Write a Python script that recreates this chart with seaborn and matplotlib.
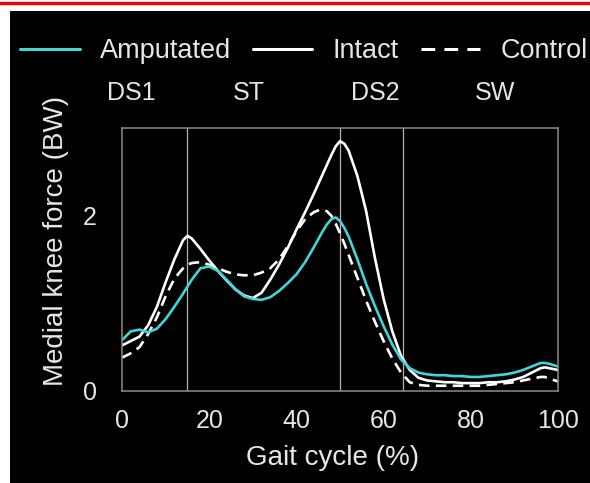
import numpy as np
import pandas as pd
import matplotlib
matplotlib.use("Agg")
import matplotlib.pyplot as plt
from matplotlib.lines import Line2D
from matplotlib.patches import Rectangle
import seaborn as sns

# Gait cycle positions (%) and medial knee contact force (body weights)
gait_pct = [0, 2, 4, 6, 8, 10, 12, 14, 15, 16, 18, 20, 22, 24, 26, 28, 30, 32, 34, 36,
            38, 40, 42, 44, 45, 46, 47, 48, 49, 50, 51, 52, 54, 56, 58, 60, 62, 64, 66, 68,
            70, 72, 74, 76, 78, 80, 82, 84, 86, 88, 90, 92, 94, 96, 97, 98, 100]

amputated = [0.58, 0.68, 0.70, 0.67, 0.71, 0.82, 0.96, 1.11, 1.19, 1.27, 1.40, 1.42, 1.37, 1.27,
             1.16, 1.08, 1.05, 1.04, 1.07, 1.14, 1.23, 1.33, 1.47, 1.64, 1.73, 1.82, 1.90, 1.96,
             1.98, 1.94, 1.86, 1.76, 1.50, 1.22, 0.97, 0.74, 0.53, 0.36, 0.26, 0.21, 0.19, 0.18,
             0.18, 0.17, 0.17, 0.16, 0.16, 0.17, 0.18, 0.19, 0.21, 0.24, 0.28, 0.32, 0.32, 0.31,
             0.28]

intact = [0.52, 0.57, 0.62, 0.75, 0.96, 1.24, 1.50, 1.72, 1.77, 1.74, 1.62, 1.49, 1.37, 1.26,
          1.16, 1.09, 1.06, 1.12, 1.27, 1.44, 1.63, 1.84, 2.04, 2.25, 2.36, 2.47, 2.58, 2.69,
          2.79, 2.85, 2.82, 2.74, 2.45, 2.05, 1.52, 1.05, 0.68, 0.40, 0.24, 0.15, 0.12, 0.11,
          0.10, 0.10, 0.09, 0.09, 0.09, 0.10, 0.10, 0.11, 0.13, 0.16, 0.21, 0.26, 0.27, 0.26,
          0.24]

control = [0.38, 0.43, 0.50, 0.65, 0.84, 1.08, 1.28, 1.40, 1.44, 1.46, 1.47, 1.44, 1.40, 1.36,
           1.33, 1.32, 1.32, 1.35, 1.40, 1.50, 1.65, 1.82, 1.96, 2.04, 2.06, 2.07, 2.05, 2.00,
           1.91, 1.80, 1.68, 1.55, 1.29, 1.03, 0.79, 0.57, 0.37, 0.21, 0.10, 0.07, 0.06, 0.06,
           0.06, 0.06, 0.06, 0.06, 0.06, 0.07, 0.08, 0.09, 0.10, 0.12, 0.14, 0.16, 0.16, 0.14,
           0.11]

groups = ["Amputated", "Intact", "Control"]

# Phase boundaries (% gait) and phase names with their label positions
phase_bounds = [15, 50, 64.5]
phase_names = ["DS1", "ST", "DS2", "SW"]
phase_label_x = [2.2, 29.0, 58.0, 85.5]

x_ticks = [0, 20, 40, 60, 80, 100]
y_ticks = [0, 2]

df = pd.concat([
    pd.DataFrame({"gait": gait_pct, "force": vals, "limb": name})
    for name, vals in zip(groups, [amputated, intact, control])
], ignore_index=True)

sns.set_theme(style="dark")
FONT = ["Liberation Sans", "DejaVu Sans"]
plt.rcParams["font.family"] = FONT

TXT = "#e6e6e6"
GRID = "#8c8c8c"
CYAN = "#3fd6d6"

fig = plt.figure(figsize=(5.9, 4.83), dpi=100, facecolor="white")
# black panel and red rule along the top
fig.patches.append(Rectangle((10 / 590, 0), 580 / 590, 472 / 483,
                             transform=fig.transFigure, facecolor="black",
                             edgecolor="none", zorder=-5))
fig.lines.append(Line2D([0, 1], [1 - 2.5 / 483] * 2, transform=fig.transFigure,
                        color="#ee0000", lw=2.4))

ax = fig.add_axes([122 / 590, 92 / 483, 436 / 590, 263 / 483])
ax.set_facecolor("black")

palette = {"Amputated": CYAN, "Intact": "white", "Control": "white"}
dashes = {"Amputated": "", "Intact": "", "Control": (4, 2.4)}
sns.lineplot(data=df, x="gait", y="force", hue="limb", style="limb",
             hue_order=["Control", "Intact", "Amputated"],
             style_order=["Control", "Intact", "Amputated"],
             palette=palette, dashes=dashes, lw=1.9, legend=False,
             estimator=None, sort=False, ax=ax)

for xb in phase_bounds:
    ax.axvline(xb, color="#b4b4b4", lw=0.9, zorder=0)

ax.set_xlim(0, 100)
ax.set_ylim(0, 3)
ax.set_xticks(x_ticks)
ax.set_yticks(y_ticks)
ax.tick_params(axis="x", direction="in", length=6, width=1, color=GRID,
               labelcolor=TXT, labelsize=18, pad=13)
ax.tick_params(axis="y", direction="in", length=8, width=1, color=GRID,
               labelcolor=TXT, labelsize=18, pad=18)
for sp in ax.spines.values():
    sp.set_color(GRID)
    sp.set_linewidth(1.1)
    sp.set_visible(True)
ax.grid(False)

ax.set_xlabel("Gait cycle (%)", color=TXT, fontsize=20)
ax.set_ylabel("Medial knee force (BW)", color=TXT, fontsize=20)
ax.xaxis.set_label_coords(0.482, -0.205)
ax.yaxis.set_label_coords(-0.122, 0.57)

for name, px in zip(phase_names, phase_label_x):
    ax.text(px, 3.40, name, color=TXT, fontsize=18, ha="center", va="center",
            clip_on=False)

handles = [
    Line2D([], [], color=CYAN, lw=2.2),
    Line2D([], [], color="white", lw=2.2),
    Line2D([], [], color="white", lw=2.2, linestyle=(0, (4.5, 3))),
]
fig.legend(handles, groups, loc="center left",
           bbox_to_anchor=(20 / 590, 1 - 51 / 483), ncol=3, frameon=False,
           fontsize=19.5, labelcolor=TXT, handlelength=2.2, handletextpad=0.75,
           columnspacing=0.8, borderpad=0, borderaxespad=0)

fig.savefig("out.png", dpi=100, facecolor="white")
